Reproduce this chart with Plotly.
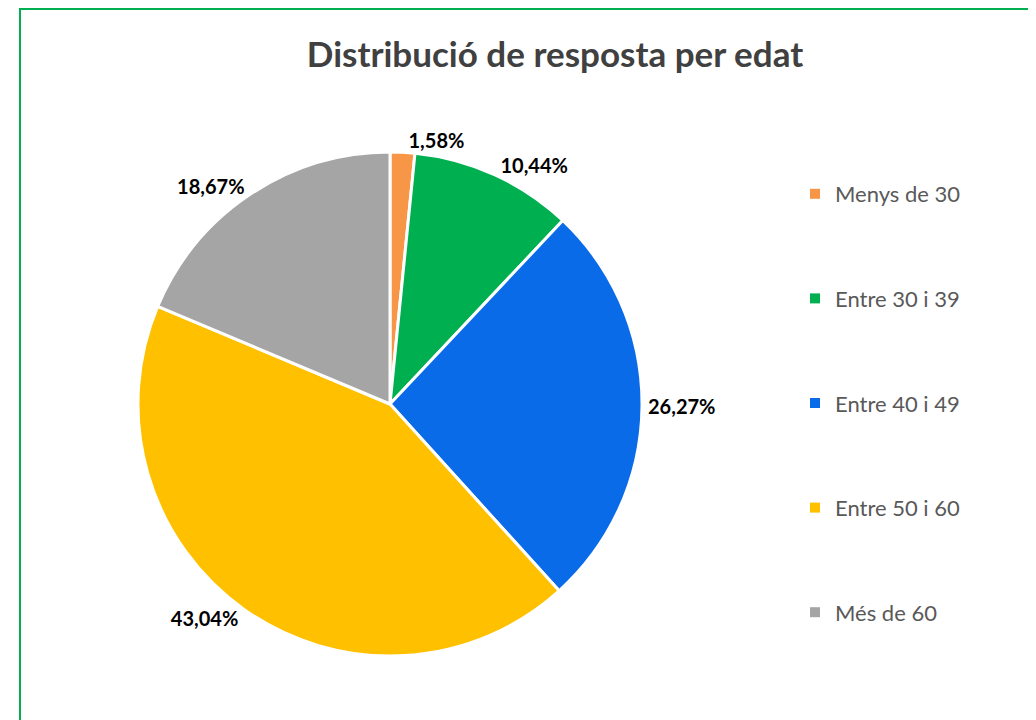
import plotly.graph_objects as go

# dades del gràfic
categories = ["Menys de 30", "Entre 30 i 39", "Entre 40 i 49", "Entre 50 i 60", "Més de 60"]
percentages = [1.58, 10.44, 26.27, 43.04, 18.67]
colors = ["#F79646", "#00B050", "#0A6BE8", "#FFC000", "#A5A5A5"]

# la pàgina té 8 px de marge al body
W, H = 1028, 712
OFF = 8


def px(x):
    return (x - OFF) / W


def py(y):
    return 1 - (y - OFF) / H


fig = go.Figure()

fig.add_trace(go.Pie(
    labels=categories,
    values=percentages,
    sort=False,
    direction="clockwise",
    rotation=0,
    marker=dict(colors=colors, line=dict(color="white", width=3)),
    texttemplate="%{percent:.2%}",
    textposition="outside",
    textfont=dict(family="Lato", size=20, color="black", weight="bold"),
    hoverinfo="label+percent",
    showlegend=False,
    domain=dict(x=[px(138), px(642)], y=[py(656), py(152)]),
))

# entrades de llegenda (una per grup, per tenir l'espaiat de l'original)
for name, c in zip(categories, colors):
    fig.add_trace(go.Scatter(
        x=[None], y=[None], mode="markers",
        marker=dict(symbol="square", size=10, color=c),
        name=name, legendgroup=name, showlegend=True,
    ))

fig.update_layout(
    width=W, height=H,
    margin=dict(l=0, r=0, t=0, b=0),
    paper_bgcolor="white",
    plot_bgcolor="white",
    separators=",.",
    xaxis=dict(visible=False),
    yaxis=dict(visible=False),
    title=dict(
        text="<b>Distribució de resposta per edat</b>",
        x=px(555), xanchor="center",
        y=py(55), yanchor="middle",
        font=dict(family="Lato", size=35, color="#404040"),
    ),
    legend=dict(
        x=px(795), xanchor="left",
        y=py(403), yanchor="middle",
        font=dict(family="Lato", size=22, color="#595959"),
        tracegroupgap=73,
        traceorder="grouped",
        bgcolor="rgba(0,0,0,0)",
    ),
    shapes=[dict(
        type="rect", xref="paper", yref="paper",
        x0=px(20), x1=px(1033), y0=-0.05, y1=py(9),
        line=dict(color="#00B050", width=2),
        fillcolor="rgba(0,0,0,0)",
    )],
)

fig.write_html("out.html")
